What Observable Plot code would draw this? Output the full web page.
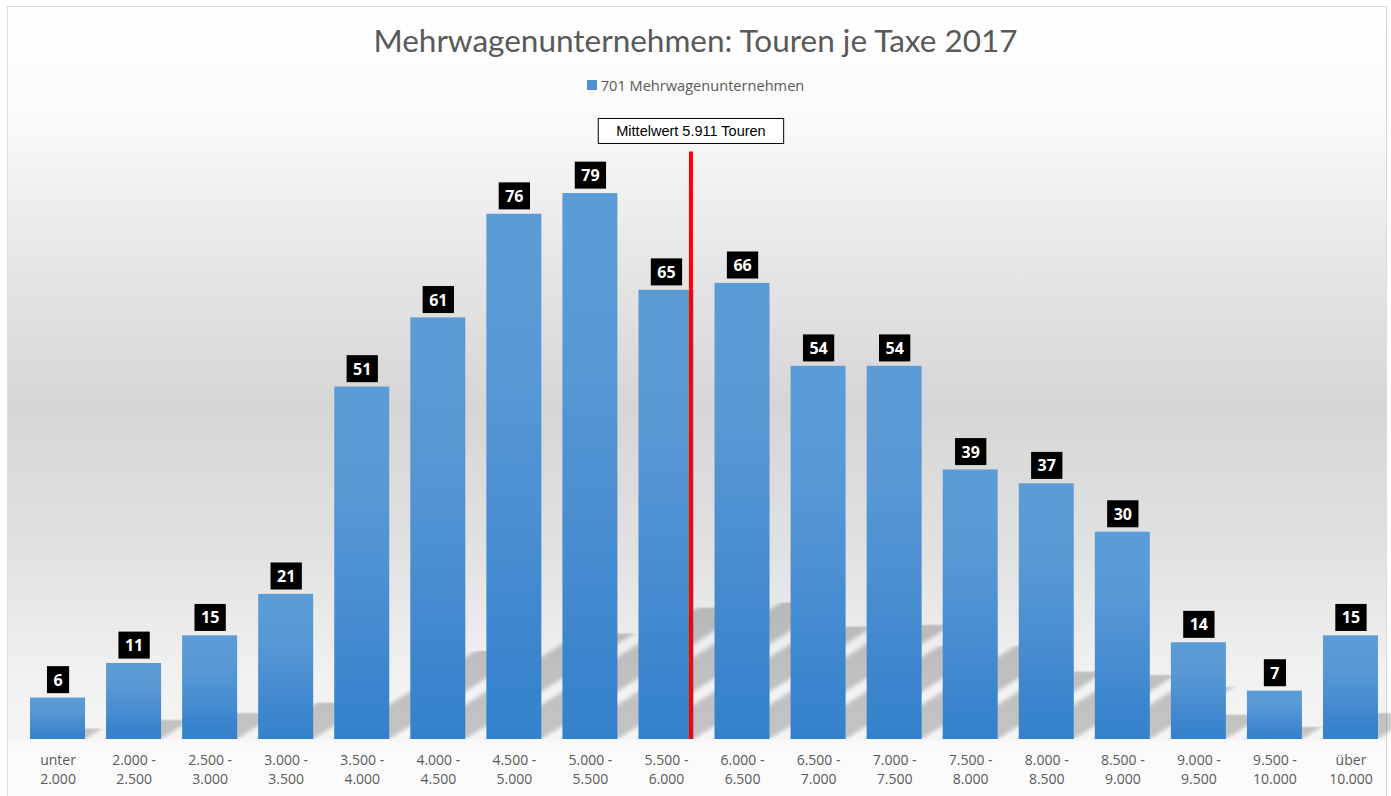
<!DOCTYPE html>
<html>
<head>
<meta charset="utf-8">
<script src="https://cdn.jsdelivr.net/npm/d3@7"></script>
<script src="https://cdn.jsdelivr.net/npm/@observablehq/plot@0.6"></script>
<style>
  html, body { margin: 0; padding: 0; }
  body { width: 1391px; height: 796px; overflow: hidden; background: #ffffff; position: relative; font-family: "Open Sans", sans-serif; }
  #frame {
    position: absolute; left: 7px; top: 6px; width: 1380px; height: 800px;
    border: 1px solid #d9d9d9; box-sizing: border-box;
    background: linear-gradient(to bottom,
      #ffffff 0px, #fafafa 110px, #e8e8e8 240px, #d6d6d6 400px,
      #e2e2e2 550px, #f1f1f1 670px, #f5f5f5 732px, #fafafa 736px, #fbfbfb 800px);
  }
  #title {
    position: absolute; left: 0; top: 25px; width: 1391px; text-align: center;
    font-family: Lato, "Open Sans", sans-serif; font-size: 31.5px; line-height: 31px; color: #595959;
  }
  #legend {
    position: absolute; left: 0; top: 76px; width: 1391px; display: flex; justify-content: center; align-items: center;
    font-size: 14.6px; line-height: 18px; color: #595959;
  }
  #legend .sw { width: 10px; height: 10px; background: #4d91d3; margin-right: 4px; }
  #chart { position: absolute; left: 0; top: 100px; }
</style>
</head>
<body>
<svg width="0" height="0" style="position:absolute">
  <defs>
    <linearGradient id="barGrad" x1="0" y1="0" x2="0" y2="1">
      <stop offset="0" stop-color="#5c9cd6"/>
      <stop offset="0.3" stop-color="#5899d5"/>
      <stop offset="0.6" stop-color="#4a8ed2"/>
      <stop offset="0.85" stop-color="#3a85cd"/>
      <stop offset="1" stop-color="#3481cb"/>
    </linearGradient>
    <filter id="shadowBlur" x="-20%" y="-20%" width="140%" height="140%">
      <feGaussianBlur stdDeviation="3.5"/>
    </filter>
  </defs>
</svg>
<div id="frame"></div>
<div id="title"></div>
<div id="legend"><div class="sw"></div><span id="legendText"></span></div>
<div id="chart"></div>
<script>
// ---- data ----
const chartTitle = "Mehrwagenunternehmen: Touren je Taxe 2017";
const legendLabel = "701 Mehrwagenunternehmen";
const categories = [
  "unter\n2.000", "2.000 -\n2.500", "2.500 -\n3.000", "3.000 -\n3.500",
  "3.500 -\n4.000", "4.000 -\n4.500", "4.500 -\n5.000", "5.000 -\n5.500",
  "5.500 -\n6.000", "6.000 -\n6.500", "6.500 -\n7.000", "7.000 -\n7.500",
  "7.500 -\n8.000", "8.000 -\n8.500", "8.500 -\n9.000", "9.000 -\n9.500",
  "9.500 -\n10.000", "über\n10.000"
];
const counts = [6, 11, 15, 21, 51, 61, 76, 79, 65, 66, 54, 54, 39, 37, 30, 14, 7, 15];
const meanTouren = 5911;
const meanLabel = "Mittelwert 5.911 Touren";
const binStart = 2000;   // lower edge of the second category
const binSize = 500;
const yMax = 90;
const meanLineTop = 85;
const meanLabelY = 88;

// ---- derived ----
const data = counts.map((v, i) => ({i, value: v, label: categories[i]}));
const meanIndex = 1 + (meanTouren - binStart) / binSize - 0.5;
const halfBar = 0.3616;

document.getElementById("title").textContent = chartTitle;
document.getElementById("legendText").textContent = legendLabel;

const ns = "http://www.w3.org/2000/svg";

function tag(cls) {
  return (index, scales, values, dims, ctx, next) => {
    const g = next(index, scales, values, dims, ctx);
    g.classList.add(cls);
    return g;
  };
}

const plot = Plot.plot({
  width: 1391,
  height: 696,
  marginLeft: 19.5,
  marginRight: 2.5,
  marginTop: 17,
  marginBottom: 57,
  style: {background: "transparent", color: "#595959", fontFamily: "'Open Sans', sans-serif", fontSize: "14px", overflow: "visible"},
  x: {domain: [-0.5, categories.length - 0.5], axis: null, label: null},
  y: {domain: [0, yMax], axis: null, label: null},
  marks: [
    // perspective shadow of the bars
    Plot.rectY(data, {
      x1: d => d.i - halfBar, x2: d => d.i + halfBar, y: "value", fill: "#000",
      render: (index, scales, values, dims, ctx, next) => {
        const g = next(index, scales, values, dims, ctx);
        const base = scales.y(0);
        const outer = document.createElementNS(ns, "g");
        const cp = document.createElementNS(ns, "clipPath");
        cp.setAttribute("id", "shadowClip");
        const cr = document.createElementNS(ns, "rect");
        cr.setAttribute("x", 0); cr.setAttribute("y", 0);
        cr.setAttribute("width", dims.width); cr.setAttribute("height", base);
        cp.appendChild(cr);
        outer.appendChild(cp);
        outer.setAttribute("clip-path", "url(#shadowClip)");
        const inner = document.createElementNS(ns, "g");
        inner.setAttribute("transform", `matrix(1,0,-0.4,0.25,${0.4 * base},${0.75 * base})`);
        inner.setAttribute("filter", "url(#shadowBlur)");
        inner.setAttribute("opacity", "0.2");
        inner.appendChild(g);
        outer.appendChild(inner);
        return outer;
      }
    }),
    Plot.rectY(data, {x1: d => d.i - halfBar, x2: d => d.i + halfBar, y: "value", fill: "url(#barGrad)"}),
    Plot.ruleX([meanIndex], {y1: 0, y2: meanLineTop, stroke: "#ff0000", strokeWidth: 4}),
    Plot.text(data, {
      x: "i", y: "value", text: d => String(d.value), dy: -17.5,
      fill: "#ffffff", fontWeight: "bold", fontSize: 16, lineAnchor: "middle",
      render: tag("vlabel")
    }),
    Plot.text([meanLabel], {
      x: () => meanIndex, y: () => meanLabelY, text: d => d,
      fill: "#000000", fontSize: 14.5, fontFamily: "'Liberation Sans', Arial, sans-serif", lineAnchor: "middle",
      render: tag("annot")
    }),
    Plot.axisX(data.map(d => d.i), {
      tickFormat: i => categories[i], tickSize: 0, tickPadding: 12, lineHeight: 1.36,
      fontSize: 14, fill: "#595959", label: null
    })
  ]
});
document.getElementById("chart").appendChild(plot);

// boxes behind value labels and annotation
function boxes(cls, padX, h, fill, stroke) {
  plot.querySelectorAll("." + cls + " text").forEach(t => {
    const bb = t.getBBox();
    const r = document.createElementNS(ns, "rect");
    const cy = bb.y + bb.height / 2;
    r.setAttribute("x", bb.x - padX);
    r.setAttribute("y", cy - h / 2);
    r.setAttribute("width", bb.width + 2 * padX);
    r.setAttribute("height", h);
    r.setAttribute("fill", fill);
    if (stroke) { r.setAttribute("stroke", stroke); r.setAttribute("stroke-width", 1); }
    if (t.getAttribute("transform")) r.setAttribute("transform", t.getAttribute("transform"));
    t.parentNode.insertBefore(r, t);
  });
}
boxes("vlabel", 6.5, 27, "#000000", null);
boxes("annot", 18, 25, "#ffffff", "#000000");
</script>
</body>
</html>
